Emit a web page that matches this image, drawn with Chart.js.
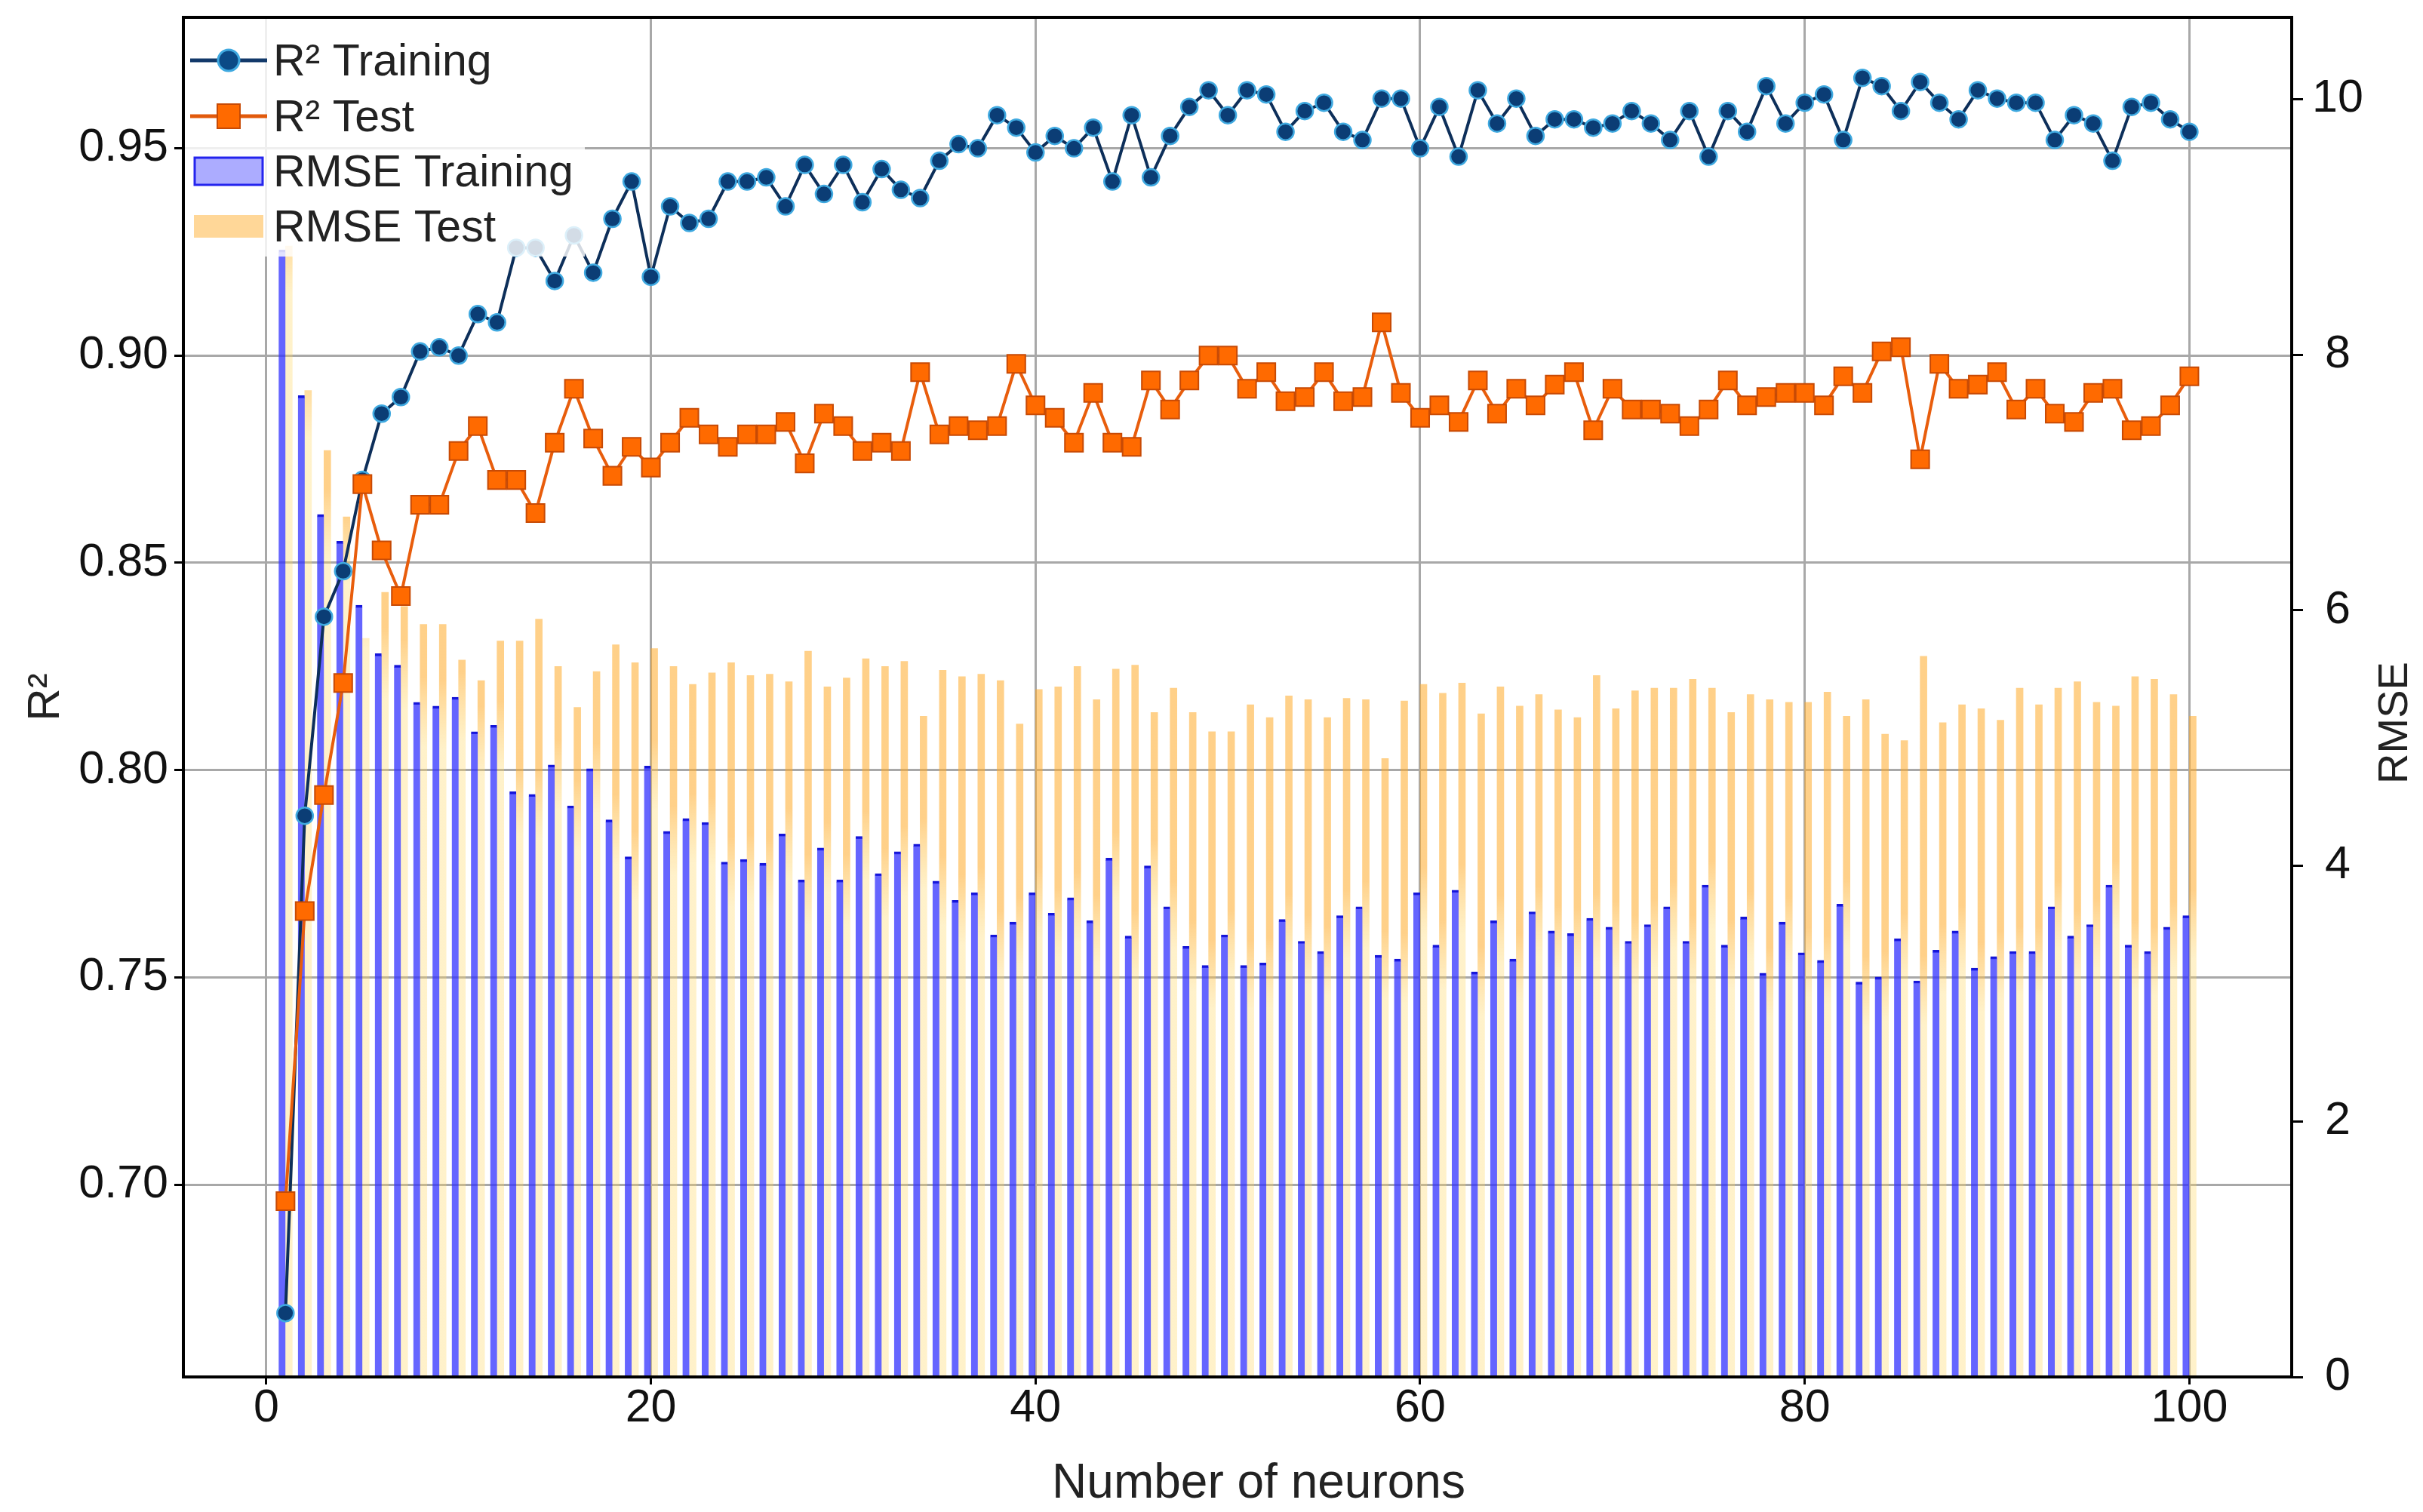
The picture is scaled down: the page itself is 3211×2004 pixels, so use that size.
<!DOCTYPE html>
<html>
<head>
<meta charset="utf-8">
<script src="https://cdn.jsdelivr.net/npm/chart.js@4.4.1/dist/chart.umd.min.js"></script>
<style>
  html, body { margin:0; padding:0; background:#fff; }
  #wrap { width:3211px; height:2004px; }
</style>
</head>
<body>
<div id="wrap"><canvas id="chart" width="3211" height="2004"></canvas></div>
<script>
// number of hidden neurons
const neurons = [1,2,3,4,5,6,7,8,9,10,11,12,13,14,15,16,17,18,19,20,
  21,22,23,24,25,26,27,28,29,30,31,32,33,34,35,36,37,38,39,40,
  41,42,43,44,45,46,47,48,49,50,51,52,53,54,55,56,57,58,59,60,
  61,62,63,64,65,66,67,68,69,70,71,72,73,74,75,76,77,78,79,80,
  81,82,83,84,85,86,87,88,89,90,91,92,93,94,95,96,97,98,99,100];

const r2Training = [0.669,0.789,0.837,0.848,0.870,0.886,0.890,0.901,0.902,0.900,
  0.910,0.908,0.926,0.926,0.918,0.929,0.920,0.933,0.942,0.919,
  0.936,0.932,0.933,0.942,0.942,0.943,0.936,0.946,0.939,0.946,
  0.937,0.945,0.940,0.938,0.947,0.951,0.950,0.958,0.955,0.949,
  0.953,0.950,0.955,0.942,0.958,0.943,0.953,0.960,0.964,0.958,
  0.964,0.963,0.954,0.959,0.961,0.954,0.952,0.962,0.962,0.950,
  0.960,0.948,0.964,0.956,0.962,0.953,0.957,0.957,0.955,0.956,
  0.959,0.956,0.952,0.959,0.948,0.959,0.954,0.965,0.956,0.961,
  0.963,0.952,0.967,0.965,0.959,0.966,0.961,0.957,0.964,0.962,
  0.961,0.961,0.952,0.958,0.956,0.947,0.960,0.961,0.957,0.954];

const r2Test = [0.696,0.766,0.794,0.821,0.869,0.853,0.842,0.864,0.864,0.877,
  0.883,0.870,0.870,0.862,0.879,0.892,0.880,0.871,0.878,0.873,
  0.879,0.885,0.881,0.878,0.881,0.881,0.884,0.874,0.886,0.883,
  0.877,0.879,0.877,0.896,0.881,0.883,0.882,0.883,0.898,0.888,
  0.885,0.879,0.891,0.879,0.878,0.894,0.887,0.894,0.900,0.900,
  0.892,0.896,0.889,0.890,0.896,0.889,0.890,0.908,0.891,0.885,
  0.888,0.884,0.894,0.886,0.892,0.888,0.893,0.896,0.882,0.892,
  0.887,0.887,0.886,0.883,0.887,0.894,0.888,0.890,0.891,0.891,
  0.888,0.895,0.891,0.901,0.902,0.875,0.898,0.892,0.893,0.896,
  0.887,0.892,0.886,0.884,0.891,0.892,0.882,0.883,0.888,0.895];

const rmseTraining = [8.82,7.68,6.75,6.54,6.04,5.66,5.57,5.28,5.25,5.32,
  5.05,5.10,4.58,4.56,4.79,4.47,4.76,4.36,4.07,4.78,
  4.27,4.37,4.34,4.03,4.05,4.02,4.25,3.89,4.14,3.89,
  4.23,3.94,4.11,4.17,3.88,3.73,3.79,3.46,3.56,3.79,
  3.63,3.75,3.57,4.06,3.45,4.00,3.68,3.37,3.22,3.46,
  3.22,3.24,3.58,3.41,3.33,3.61,3.68,3.30,3.27,3.79,
  3.38,3.81,3.17,3.57,3.27,3.64,3.49,3.47,3.59,3.52,
  3.41,3.54,3.68,3.41,3.85,3.38,3.60,3.16,3.56,3.32,
  3.26,3.70,3.09,3.13,3.43,3.10,3.34,3.49,3.20,3.29,
  3.33,3.33,3.68,3.45,3.54,3.85,3.38,3.33,3.52,3.61];

const rmseTest = [8.85,7.72,7.25,6.73,5.78,6.14,6.03,5.89,5.89,5.61,
  5.45,5.76,5.76,5.93,5.56,5.24,5.52,5.73,5.59,5.70,
  5.56,5.42,5.51,5.59,5.49,5.50,5.44,5.68,5.40,5.47,
  5.62,5.56,5.60,5.17,5.53,5.48,5.50,5.45,5.11,5.38,
  5.40,5.56,5.30,5.54,5.57,5.20,5.39,5.20,5.05,5.05,
  5.26,5.16,5.33,5.30,5.16,5.31,5.30,4.84,5.29,5.42,
  5.35,5.43,5.19,5.40,5.25,5.34,5.22,5.16,5.49,5.23,
  5.37,5.39,5.39,5.46,5.39,5.20,5.34,5.30,5.28,5.28,
  5.36,5.17,5.30,5.03,4.98,5.64,5.12,5.26,5.23,5.14,
  5.39,5.26,5.39,5.44,5.28,5.25,5.48,5.46,5.34,5.17];

const seriesLabels = ["R² Training", "R² Test", "RMSE Training", "RMSE Test"];
const xTicks = [0, 20, 40, 60, 80, 100];
const r2Ticks = [0.70, 0.75, 0.80, 0.85, 0.90, 0.95];
const rmseTicks = [0, 2, 4, 6, 8, 10];
const xTitle = "Number of neurons";
const leftTitle = "R²";
const rightTitle = "RMSE";

const FONT = "'Liberation Sans', Arial, sans-serif";
const GRID = "#a8a8a8";

function pts(ys){ return neurons.map((x, i) => ({ x, y: ys[i] })); }
function fixTicks(list){ return scale => { scale.ticks = list.map(v => ({ value: v })); }; }
// fixed box sizes so the plot area lands where it is in the figure
function fitBox(prop, size){
  return s => {
    s[prop] = size;
    s.paddingTop = 0; s.paddingBottom = 0; s.paddingLeft = 0; s.paddingRight = 0;
  };
}

// pale lower part of the test bars, under the level of the training bar next to it
function testBarFill(ctx){
  const chart = ctx.chart;
  const y1 = chart.scales && chart.scales.y1;
  if (!chart.chartArea || !y1 || ctx.type !== "data") return "rgba(255,170,40,0.55)";
  const lvl = rmseTraining[ctx.dataIndex];
  const g = chart.ctx.createLinearGradient(0, y1.getPixelForValue(lvl + 0.2), 0, y1.getPixelForValue(lvl - 0.35));
  g.addColorStop(0, "rgba(255,170,40,0.55)");
  g.addColorStop(1, "rgba(255,214,95,0.33)");
  return g;
}

const overlay = {
  id: "overlay",
  afterDraw(chart){
    const { ctx, chartArea: a } = chart;
    ctx.save();

    // legend (semi transparent box in the top left corner)
    ctx.fillStyle = "rgba(255,255,255,0.82)";
    ctx.fillRect(a.left, a.top, 532, 317);

    const mx = 303;
    const rows = [80, 154, 227, 300];
    // R² training
    ctx.strokeStyle = "#12396a"; ctx.lineWidth = 5;
    ctx.beginPath(); ctx.moveTo(252, rows[0]); ctx.lineTo(354, rows[0]); ctx.stroke();
    ctx.beginPath(); ctx.arc(mx, rows[0], 14, 0, Math.PI * 2);
    ctx.fillStyle = "#0b4a86"; ctx.fill();
    ctx.lineWidth = 3; ctx.strokeStyle = "#3fa9e0"; ctx.stroke();
    // R² test
    ctx.strokeStyle = "#e25a0c"; ctx.lineWidth = 5;
    ctx.beginPath(); ctx.moveTo(252, rows[1]); ctx.lineTo(354, rows[1]); ctx.stroke();
    ctx.fillStyle = "#ff6a00"; ctx.fillRect(mx - 15, rows[1] - 16, 30, 32);
    ctx.lineWidth = 2; ctx.strokeStyle = "#c74a05"; ctx.strokeRect(mx - 15, rows[1] - 16, 30, 32);
    // RMSE training
    ctx.fillStyle = "rgba(90,90,255,0.5)"; ctx.fillRect(258, rows[2] - 18, 90, 36);
    ctx.lineWidth = 3; ctx.strokeStyle = "#2424ee"; ctx.strokeRect(258, rows[2] - 18, 90, 36);
    // RMSE test
    ctx.fillStyle = "rgba(255,175,50,0.5)"; ctx.fillRect(257, rows[3] - 15, 92, 30);

    ctx.fillStyle = "#222";
    ctx.font = `59px ${FONT}`;
    ctx.textAlign = "left"; ctx.textBaseline = "alphabetic";
    seriesLabels.forEach((t, i) => ctx.fillText(t, 362, rows[i] + 20));

    // plot frame
    ctx.strokeStyle = "#000"; ctx.lineWidth = 4;
    ctx.strokeRect(a.left, a.top, a.right - a.left, a.bottom - a.top);

    // axis titles
    ctx.fillStyle = "#222";
    ctx.font = `64px ${FONT}`;
    ctx.textAlign = "center";
    ctx.fillText(xTitle, 1668, 1985);

    const midY = (a.top + a.bottom) / 2;
    ctx.font = `60px ${FONT}`;
    ctx.save(); ctx.translate(78, midY); ctx.rotate(-Math.PI / 2); ctx.fillText(leftTitle, 0, 0); ctx.restore();
    ctx.font = `56px ${FONT}`;
    ctx.save(); ctx.translate(3190, midY + 34); ctx.rotate(-Math.PI / 2); ctx.fillText(rightTitle, 0, 0); ctx.restore();

    ctx.restore();
  }
};

const tickFont = { family: FONT, size: 61, lineHeight: 1 };

new Chart(document.getElementById("chart"), {
  type: "line",
  data: {
    datasets: [
      {
        type: "line", label: seriesLabels[1], data: pts(r2Test), yAxisID: "y", order: 0,
        borderColor: "#e85d0c", borderWidth: 4,
        pointStyle: "rect", pointRadius: 17, pointBackgroundColor: "#ff6a00",
        pointBorderColor: "#c74a05", pointBorderWidth: 2
      },
      {
        type: "line", label: seriesLabels[0], data: pts(r2Training), yAxisID: "y", order: 1,
        borderColor: "#0d2f5a", borderWidth: 4,
        pointStyle: "circle", pointRadius: 11, pointBackgroundColor: "#0b3d75",
        pointBorderColor: "#3fa9e0", pointBorderWidth: 2.5
      },
      {
        type: "bar", label: seriesLabels[2], data: pts(rmseTraining), yAxisID: "y1", order: 2,
        backgroundColor: "rgba(50,50,255,0.75)", borderColor: "#1515d8",
        borderWidth: { top: 3, left: 0, right: 0, bottom: 0 }, borderSkipped: false,
        barThickness: 9
      },
      {
        type: "bar", label: seriesLabels[3], data: pts(rmseTest), yAxisID: "y1", order: 3,
        backgroundColor: testBarFill, borderWidth: 0,
        barThickness: 9
      }
    ]
  },
  options: {
    responsive: false,
    devicePixelRatio: 1,
    animation: false,
    layout: { padding: { top: 23, left: 0, right: 0, bottom: 0 } },
    plugins: { legend: { display: false }, tooltip: { enabled: false }, title: { display: false } },
    scales: {
      x: {
        type: "linear", position: "bottom", min: -4.31, max: 105.32, offset: false,
        afterBuildTicks: fixTicks(xTicks),
        afterFit: fitBox("height", 179),
        grid: { color: GRID, lineWidth: 3, offset: false, tickColor: "#000", tickLength: 10, tickWidth: 3 },
        border: { display: false },
        ticks: { font: tickFont, color: "#111", padding: 2, maxRotation: 0 }
      },
      y: {
        type: "linear", position: "left", min: 0.6536, max: 0.9816,
        afterBuildTicks: fixTicks(r2Ticks),
        afterFit: fitBox("width", 243),
        grid: { color: GRID, lineWidth: 3, tickColor: "#000", tickLength: 12, tickWidth: 3 },
        border: { display: false },
        ticks: { font: tickFont, color: "#111", padding: 8, callback: v => Number(v).toFixed(2) }
      },
      y1: {
        type: "linear", position: "right", min: 0, max: 10.64,
        afterBuildTicks: fixTicks(rmseTicks),
        afterFit: fitBox("width", 174),
        grid: { drawOnChartArea: false, tickColor: "#000", tickLength: 15, tickWidth: 3 },
        border: { display: false },
        ticks: { font: tickFont, color: "#111", padding: 12, crossAlign: "center" }
      }
    }
  },
  plugins: [overlay]
});
</script>
</body>
</html>
